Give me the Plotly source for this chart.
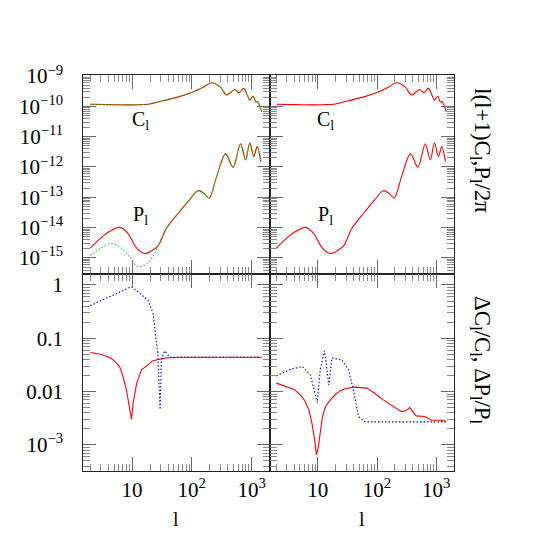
import plotly.graph_objects as go

# ---------------- data ----------------
# Top panels: l(l+1)C_l/2pi and l(l+1)P_l/2pi
cl_l = [2, 4, 8, 13, 20, 33, 60, 92, 150, 214, 300, 380, 450, 525, 617, 740, 850, 930, 1000, 1070, 1170, 1250, 1310, 1400, 1470]
cl_v = [1.17e-10, 1.14e-10, 1.12e-10, 1.13e-10, 1.2e-10, 1.53e-10, 2.05e-10, 2.69e-10, 4.1e-10, 6.0e-10, 4.3e-10,
        2.37e-10, 2.9e-10, 3.6e-10, 2.8e-10, 3.9e-10, 2.3e-10, 1.6e-10, 1.9e-10, 2.1e-10, 1.4e-10, 1.45e-10,
        1.26e-10, 0.95e-10, 0.66e-10]

pl_l = [2, 3, 4.2, 6.2, 8.5, 12, 16.3, 20, 27.3, 37.7, 63, 92.5, 127, 160, 195, 260, 367, 490, 653, 793, 935,
        1090, 1240, 1430]
pl_v = [2.1e-15, 4.5e-15, 7.4e-15, 1.02e-14, 6.5e-15, 2.1e-15, 1.4e-15, 1.6e-15, 2.5e-15, 9.5e-15, 3.4e-14,
        8.5e-14, 1.65e-13, 1.35e-13, 9.3e-14, 4.8e-13, 2.7e-12, 9.8e-13, 5.8e-12, 1.7e-12, 6.3e-12, 2.2e-12,
        4.7e-12, 1.5e-12]

# green (alternative model) P_l at low l, identical above l ~ 27
pl2_l_low = [2, 3, 4.5, 6.5, 9, 12.6, 18, 23]
pl2_v_low = [1.2e-15, 2.1e-15, 3.0e-15, 2.2e-15, 1.1e-15, 5.1e-16, 6.6e-16, 1.25e-15]

# Bottom-left: relative differences
dl_l_red = [2, 3, 4.2, 5, 6.2, 7, 8.06, 9, 9.8, 10.5, 12, 14.4, 18, 22.5, 30, 40, 60, 300, 1470]
dl_v_red = [0.054, 0.050, 0.044, 0.038, 0.0295, 0.020, 0.0107, 0.0056, 0.0030, 0.0065, 0.0144, 0.0256, 0.0316,
            0.038, 0.041, 0.043, 0.044, 0.044, 0.044]
dl_l_blue = [2, 9.8, 18.5, 22.5, 27, 29.5, 31, 35.3, 42.7, 100, 1470]
dl_v_blue = [0.41, 0.93, 0.52, 0.29, 0.052, 0.0046, 0.04, 0.058, 0.044, 0.044, 0.044]

# Bottom-right: relative differences
dr_l_red = [2, 3, 4, 5.1, 6, 7.1, 8, 8.8, 9.5, 10.2, 11, 12, 13.5, 16.3, 20, 24, 30, 42.7, 67, 90, 127, 180, 260,
            310, 357, 400, 460, 640, 827, 1130, 1470]
dr_v_red = [0.0144, 0.0125, 0.011, 0.0087, 0.0068, 0.0045, 0.0025, 0.0013, 0.00065, 0.0009, 0.0019, 0.0034,
            0.0052, 0.0070, 0.0089, 0.0104, 0.0114, 0.0121, 0.0116, 0.0094, 0.0070, 0.0054, 0.0042, 0.0044,
            0.0050, 0.0042, 0.0035, 0.0034, 0.0029, 0.0029, 0.0028]
dr_l_blue = [2, 3.5, 5.5, 7.5, 9.8, 11, 12.9, 13.9, 15.3, 17.4, 25.6, 33, 40, 48.7, 63, 1470]
dr_v_blue = [0.0197, 0.0263, 0.0294, 0.0205, 0.0062, 0.0255, 0.058, 0.034, 0.0133, 0.043, 0.039, 0.0255, 0.0107,
             0.0034, 0.0027, 0.0027]

# tick labels
x_tickvals = [10, 100, 1000]
x_ticktext = ["10", "10<sup>2</sup>", "10<sup>3</sup>"]
top_tickvals = [1e-9, 1e-10, 1e-11, 1e-12, 1e-13, 1e-14, 1e-15]
top_ticktext = ["10<sup>−9</sup>", "10<sup>−10</sup>", "10<sup>−11</sup>", "10<sup>−12</sup>",
                "10<sup>−13</sup>", "10<sup>−14</sup>", "10<sup>−15</sup>"]
bot_tickvals = [1, 0.1, 0.01, 0.001]
bot_ticktext = ["1", "0.1", "0.01", "10<sup>−3</sup>"]

title_top = "l(l+1)C<sub>l</sub>,P<sub>l</sub>/2π"
title_bot = "ΔC<sub>l</sub>/C<sub>l</sub>, ΔP<sub>l</sub>/P<sub>l</sub>"

# ---------------- figure ----------------
W = H = 545
FONT = "Liberation Serif"
RED, GREEN, BLUE = "#ff0000", "#00dd00", "#0000ff"
DOT = "1.5px,2px"

# green series: low-l part followed by the common high-l part
pl2_l = pl2_l_low + [v for v in pl_l if v >= 27]
pl2_v = pl2_v_low + [pl_v[i] for i, v in enumerate(pl_l) if v >= 27]

fig = go.Figure()


def add(x, y, color, dash, xa, ya, shape="spline", smooth=0.9):
    fig.add_trace(go.Scatter(x=x, y=y, mode="lines", xaxis=xa, yaxis=ya, showlegend=False,
                             line=dict(color=color, width=1.1, dash=dash, shape=shape, smoothing=smooth)))


# top-left
add(cl_l, cl_v, RED, "solid", "x", "y")
add(cl_l, cl_v, GREEN, DOT, "x", "y")
add(pl_l, pl_v, RED, "solid", "x", "y")
add(pl2_l, pl2_v, GREEN, DOT, "x", "y")
# top-right
add(cl_l, cl_v, RED, "solid", "x2", "y2")
add(pl_l, pl_v, RED, "solid", "x2", "y2")
# bottom-left
add(dl_l_red, dl_v_red, RED, "solid", "x3", "y3", "linear")
add(dl_l_blue, dl_v_blue, BLUE, DOT, "x3", "y3", "linear")
# bottom-right
add(dr_l_red, dr_v_red, RED, "solid", "x4", "y4", "linear")
add(dr_l_blue, dr_v_blue, BLUE, DOT, "x4", "y4", "linear")

# layout geometry (pixels -> paper)
xL0, xM, xR1 = 83.3, 269.5, 454.0
yT, yMid, yB = 75.0, 274.0, 471.0
px = lambda v: v / W
py = lambda v: 1 - v / H

xrange_log = [0.185, 3.30]
top_range = [-15.53, -8.967]
bot_range = [-3.49, 0.206]

TICKFONT = dict(family=FONT, size=21, color="black")


def xaxis(domain, anchor, labels):
    return dict(type="log", range=xrange_log, domain=domain, anchor=anchor, automargin=False,
                showline=True, linecolor="#222", linewidth=1, mirror="allticks",
                ticks="inside", ticklen=14, tickcolor="#666", tickwidth=1,
                tickmode="array", tickvals=x_tickvals, ticktext=x_ticktext, showticklabels=labels,
                ticklabelstandoff=0,
                minor=dict(ticks="inside", ticklen=7, tickcolor="#888", dtick="D1", showgrid=False),
                showgrid=False, zeroline=False, tickfont=TICKFONT)


def yaxis(domain, anchor, rng, tv, tt, labels):
    return dict(type="log", range=rng, domain=domain, anchor=anchor, automargin=False,
                showline=True, linecolor="#222", linewidth=1, mirror="allticks",
                ticks="inside", ticklen=13, tickcolor="#666", tickwidth=1,
                tickmode="array", tickvals=tv, ticktext=tt, showticklabels=labels,
                ticklabelstandoff=15,
                minor=dict(ticks="inside", ticklen=7, tickcolor="#888", dtick="D1", showgrid=False),
                showgrid=False, zeroline=False, tickfont=TICKFONT)


dL = [px(xL0), px(xM)]
dR = [px(xM), px(xR1)]
dT = [py(yMid), py(yT)]
dB = [py(yB), py(yMid)]

fig.update_layout(
    width=W, height=H, margin=dict(l=0, r=0, t=0, b=0, pad=0),
    paper_bgcolor="white", plot_bgcolor="rgba(0,0,0,0)",
    xaxis=xaxis(dL, "y", False),
    yaxis=yaxis(dT, "x", top_range, top_tickvals, top_ticktext, True),
    xaxis2=xaxis(dR, "y2", False),
    yaxis2=yaxis(dT, "x2", top_range, top_tickvals, top_ticktext, False),
    xaxis3=xaxis(dL, "y3", True),
    yaxis3=yaxis(dB, "x3", bot_range, bot_tickvals, bot_ticktext, True),
    xaxis4=xaxis(dR, "y4", True),
    yaxis4=yaxis(dB, "x4", bot_range, bot_tickvals, bot_ticktext, False),
)

ann = []


def label(x, y, text, size=20, angle=0):
    ann.append(dict(x=px(x), y=py(y), xref="paper", yref="paper", text=text, showarrow=False,
                    textangle=angle, font=dict(family=FONT, size=size, color="black"),
                    xanchor="center", yanchor="middle"))


label(140, 121, "C<sub>l</sub>")
label(140, 215, "P<sub>l</sub>")
label(325, 121, "C<sub>l</sub>")
label(325, 215, "P<sub>l</sub>")
label(481, 150, title_top, size=23, angle=90)
label(481, 360, title_bot, size=23, angle=90)
label(176, 519, "l")
label(362, 519, "l")
fig.update_layout(annotations=ann)

fig.write_html("out.html", config={"displayModeBar": False},
               post_script="document.body.style.margin='0px';document.body.style.padding='0px';")
